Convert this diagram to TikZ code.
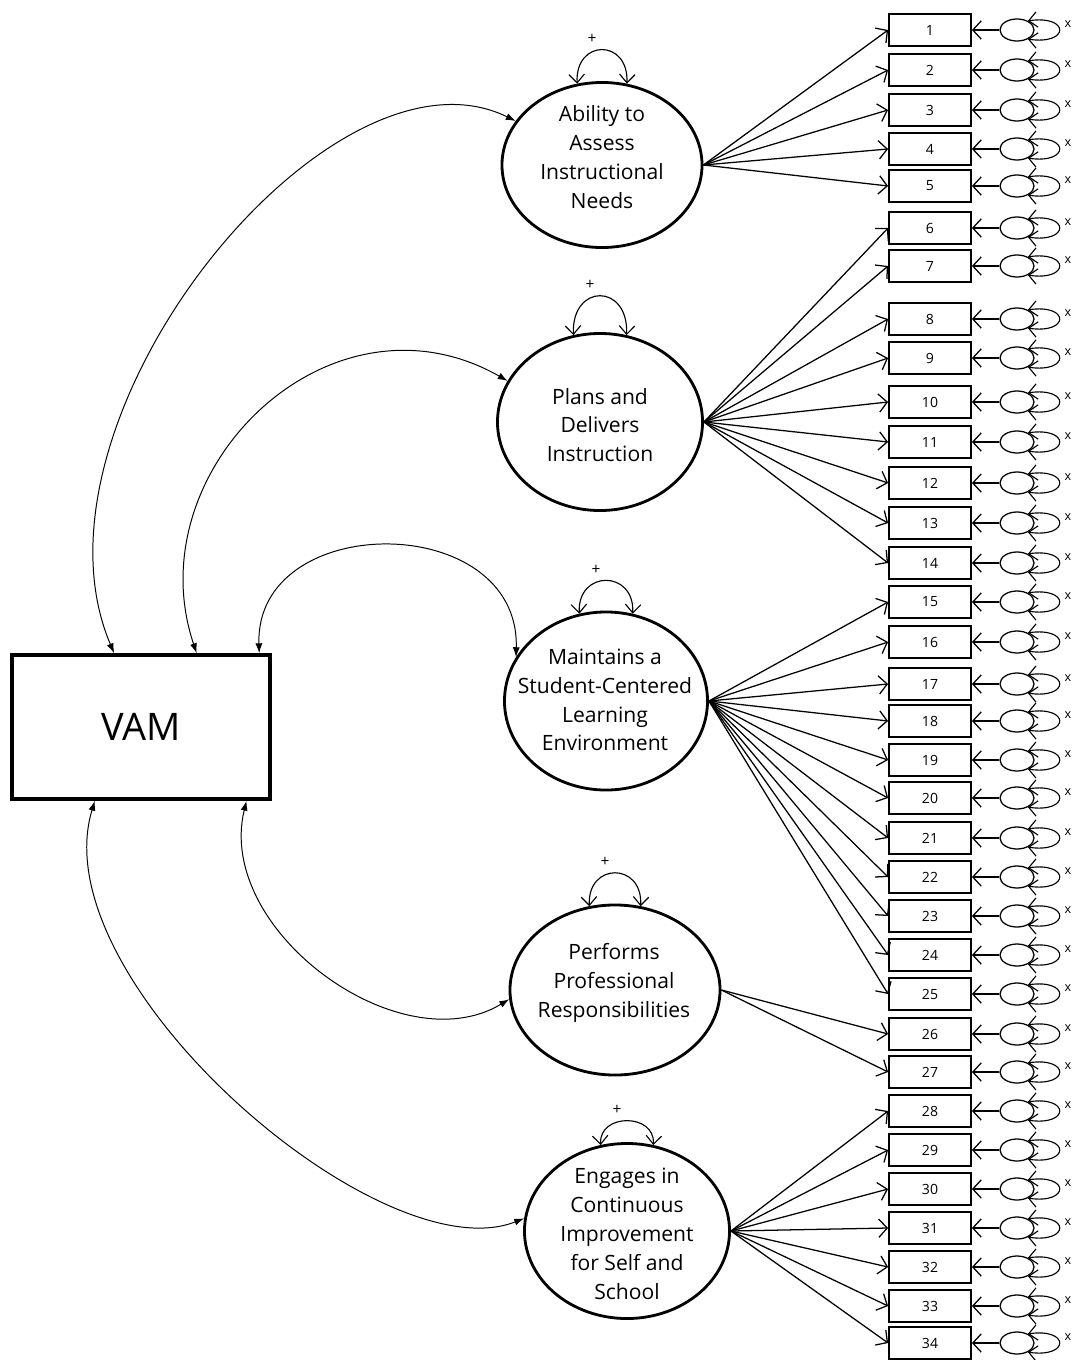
\documentclass[tikz,border=0pt]{standalone}
\usepackage{fontspec}
\setmainfont{Open Sans}
\usetikzlibrary{shapes.geometric,arrows.meta}

\begin{document}
\begin{tikzpicture}[x=0.025cm, y=-0.025cm,
    latent/.style={ellipse, draw, line width=2pt, inner sep=0pt},
    lattext/.style={align=center, inner sep=0pt, font=\fontsize{15}{20.5}\selectfont},
    item/.style={draw, line width=1.3pt, minimum width=2.05cm, minimum height=0.8cm, inner sep=0pt, font=\fontsize{10}{12}\selectfont},
    err/.style={ellipse, draw, line width=0.9pt, minimum width=0.85cm, minimum height=0.55cm, inner sep=0pt},
    load/.style={-{Straight Barb[length=6pt,width=13pt]}, line width=0.9pt},
    cov/.style={{Latex[length=7pt,width=5pt]}-{Latex[length=7pt,width=5pt]}, line width=0.7pt},
    var/.style={{Straight Barb[length=6pt,width=11pt]}-{Straight Barb[length=6pt,width=11pt]}, line width=0.8pt}]

\useasboundingbox (0,0) rectangle (1075,1360);

% observed outcome
\node[draw, line width=2.6pt, minimum width=6.45cm, minimum height=3.6cm, font=\fontsize{27}{30}\selectfont] (vam) at (141,727) {VAM};

% latent factors
\node[latent, minimum width=5cm, minimum height=4.125cm] (ability) at (602,165) {};
\node[latent, minimum width=5.125cm, minimum height=4.425cm] (plans) at (600,422) {};
\node[latent, minimum width=5.075cm, minimum height=4.45cm] (maintain) at (606,701) {};
\node[latent, minimum width=5.25cm, minimum height=4.25cm] (perform) at (615,990) {};
\node[latent, minimum width=5.125cm, minimum height=4.375cm] (engage) at (627,1231) {};

\node[lattext] (abilityt) at (602,157) {Ability to\\Assess\\Instructional\\Needs};
\node[lattext] (planst) at (600,425) {Plans and\\Delivers\\Instruction};
\node[lattext] (maintaint) at (605,700) {Maintains a\\Student-Centered\\Learning\\Environment};
\node[lattext] (performt) at (614,983) {Performs\\Professional\\Responsibilities};
\node[lattext] (engaget) at (627,1234) {Engages in\\Continuous\\Improvement\\for Self and\\School};

% variances of the factors
\foreach \n/\h in {ability/45,plans/52,maintain/44,perform/44,engage/32}{
  \draw[var] (\n.107) .. controls +(-2,-\h) and +(2,-\h) .. (\n.73)
    node (plus-\n) [midway, above=3pt, xshift=-0.25cm, inner sep=1pt, font=\fontsize{11}{11}\selectfont] {+};
}

% indicators with their error terms
\foreach \i/\y in {1/30,2/70,3/110,4/149,5/186,6/228,7/266,8/319,9/358,10/402,11/442,12/483,13/523,14/563,15/602,16/642,17/684,18/721,19/760,20/798,21/838,22/877,23/916,24/955,25/994,26/1034,27/1072,28/1111,29/1150,30/1189,31/1228,32/1267,33/1306,34/1343}{
  \node[item] (b\i) at (930,\y) {\raisebox{-3pt}{\i}};
  \node[err] (e\i) at (1017,\y) {};
  \node[inner sep=0pt, font=\fontsize{9}{9}\selectfont] (x\i) at (1068,\y-6) {x};
  \draw[load] (e\i) -- (b\i);
  \draw[var] (e\i.40) .. controls +(42,-6) and +(42,6) .. (e\i.-40);
}

% loadings
\foreach \i in {1,...,5} \draw[load] (ability.east) -- (b\i.west);
\foreach \i in {6,...,14} \draw[load] (plans.east) -- (b\i.west);
\foreach \i in {15,...,25} \draw[load] (maintain.east) -- (b\i.west);
\foreach \i in {26,27} \draw[load] (perform.east) -- (b\i.west);
\foreach \i in {28,...,34} \draw[load] (engage.east) -- (b\i.west);

% covariances with VAM
\draw[cov] (vam.110) .. controls (15,420) and (330,30) .. (ability.153);
\draw[cov] (vam.53) .. controls (135,470) and (330,280) .. (plans.156);
\draw[cov] (vam.32) .. controls (255,510) and (520,510) .. (maintain.154);
\draw[cov] (vam.-35) .. controls (215,930) and (400,1065) .. (perform.185);
\draw[cov] (vam.-122) .. controls (40,980) and (380,1275) .. (engage.173);

\end{tikzpicture}
\end{document}
